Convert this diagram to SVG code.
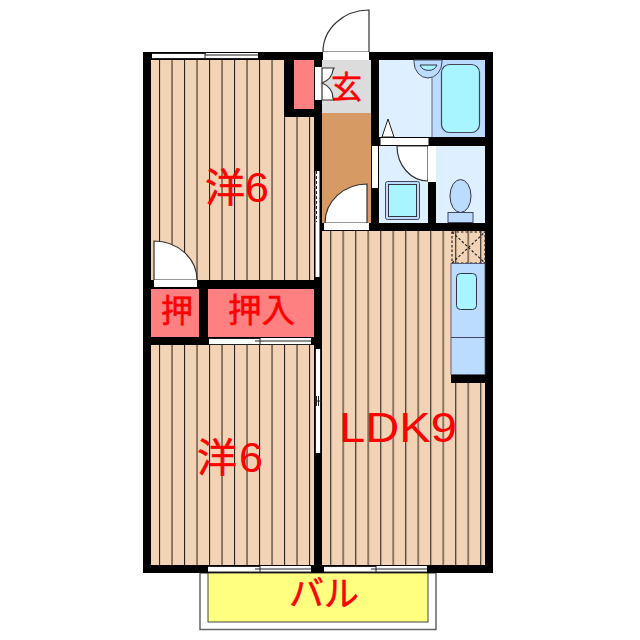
<svg xmlns="http://www.w3.org/2000/svg" width="640" height="640" viewBox="0 0 640 640">
<style>
.t{fill:#f00;stroke:#f00;stroke-width:.5;font-family:"Noto Sans CJK JP","Liberation Sans",sans-serif}
.n{font-family:"Liberation Sans",sans-serif;font-size:43px;stroke-width:0}
.l{stroke:#222;stroke-width:1;fill:none}
.w{fill:#fff;stroke:#222;stroke-width:1}
.f{fill:#fff;stroke:#333;stroke-width:1.2}
</style>
<defs>
<pattern id="p1" patternUnits="userSpaceOnUse" x="159" y="0" width="25" height="10"><rect width="25" height="10" fill="#f2d3b6"/><rect x="0" width="1.1" height="10" fill="#2a2520"/><rect x="12.300" width="1.500" height="10" fill="#6e5a48"/></pattern>
<pattern id="p2" patternUnits="userSpaceOnUse" x="330.200" y="0" width="25" height="10"><rect width="25" height="10" fill="#f2d3b6"/><rect x="0" width="1.1" height="10" fill="#2a2520"/><rect x="12.300" width="1.500" height="10" fill="#6e5a48"/></pattern>
</defs>
<g id="floors">
<rect x="151" y="60" width="133" height="57" fill="url(#p1)"/>
<rect x="151" y="117" width="163" height="165" fill="url(#p1)"/>
<rect x="151" y="345" width="163" height="220" fill="url(#p1)"/>
<rect x="322" y="231" width="163" height="334" fill="url(#p2)"/>
</g>
<g id="balcony">
<rect x="200" y="573" width="236" height="56.500" fill="#fff" stroke="#666" stroke-width="1.500"/>
<rect x="208" y="573" width="220" height="49" fill="#ffff80" stroke="#444" stroke-width="1"/>
</g>
<g id="rooms">
<rect x="294" y="60" width="20" height="49" fill="#ff8080"/>
<rect x="322" y="60" width="49" height="53" fill="#dcdcdc"/>
<rect x="322" y="113" width="49" height="110" fill="#d69a64"/>
<rect x="379" y="60" width="53" height="77" fill="#def0ff"/>
<rect x="432" y="60" width="53" height="77" fill="#bcdcff"/>
<rect x="379" y="146" width="49" height="77" fill="#def0ff"/>
<rect x="436" y="146" width="49" height="77" fill="#def0ff"/>
<rect x="151" y="289" width="48" height="48" fill="#ff8080"/>
<rect x="208" y="289" width="106" height="48" fill="#ff8080"/>
</g>
<g id="walls" fill="#000">
<rect x="143" y="52" width="350" height="8"/>
<rect x="143" y="52" width="8" height="521"/>
<rect x="485" y="52" width="8" height="521"/>
<rect x="143" y="565" width="350" height="8"/>
<rect x="284" y="60" width="10" height="57"/>
<rect x="284" y="109" width="38" height="8"/>
<rect x="314" y="60" width="8" height="171"/>
<rect x="371" y="60" width="8" height="171"/>
<rect x="314" y="223" width="179" height="8"/>
<rect x="379" y="137" width="106" height="9"/>
<rect x="428" y="137" width="8" height="94"/>
<rect x="143" y="280" width="179" height="9"/>
<rect x="143" y="337" width="179" height="8"/>
<rect x="199" y="289" width="9" height="56"/>
<rect x="314" y="231" width="8" height="118"/>
<rect x="314" y="345" width="8" height="228"/>
<rect x="451" y="375" width="34" height="8"/>
</g>
<g id="fixtures">
<path d="M323 52A46 42 0 0 1 369 10V52Z" class="f"/>
<rect x="323" y="52" width="46" height="8" fill="#fff"/>
<path d="M325 223A42 39 0 0 1 367 184V223Z" class="f"/>
<rect x="324" y="223" width="45" height="7" fill="#fff"/>
<path d="M154 241A43 39 0 0 1 197 280H154Z" class="f"/>
<rect x="154" y="280" width="43" height="7" fill="#fff"/>
<path d="M397 146A31 35 0 0 0 428 181V146Z" class="f"/>
<rect x="380.500" y="138" width="48" height="7" fill="#fff"/>
<rect x="428" y="146" width="8" height="36" fill="#fff"/>
<rect x="372" y="146" width="6" height="42" fill="#fff"/>
<path d="M382 137L388 119L394 137Z" class="w"/>
<path d="M432 78V137" stroke="#667" stroke-width="1"/>
<path d="M414 60H442V62A14 16 0 0 1 414 62Z" fill="#bcdcff" stroke="#445" stroke-width="1"/>
<path d="M420 65H437A9 8 0 0 1 420 65Z" fill="#a8f4ff" stroke="#334" stroke-width="1"/>
<rect x="441.500" y="64.500" width="38" height="68" rx="8" fill="#a8f4ff" stroke="#445" stroke-width="1.200"/>
<rect x="385.500" y="181.500" width="34" height="38" rx="2" fill="#bcdcff" stroke="#446" stroke-width="1"/>
<rect x="388.500" y="184.500" width="28" height="32" fill="#a8f4ff" stroke="#334" stroke-width="1"/>
<ellipse cx="460.500" cy="196" rx="10.500" ry="16.500" fill="#bcdcff" stroke="#334" stroke-width="1"/>
<rect x="448" y="212.500" width="25" height="10" fill="#bcdcff" stroke="#446" stroke-width="1"/>
<rect x="315" y="67" width="7" height="33" fill="#fff"/>
<path d="M322 68H334L333 70A18 16 0 0 1 322 83A18 16 0 0 1 333 98L334 100H322Z" class="f"/>
<g fill="none" stroke="#222" stroke-dasharray="2.500 2" stroke-width="1.200">
<rect x="452" y="232" width="33" height="31"/>
<path d="M452 263L485 232M452 232L485 263"/>
</g>
<rect x="451" y="263.500" width="34" height="111" fill="#bcdcff" stroke="#446" stroke-width="0.800"/>
<path d="M451 337.500H485" stroke="#446" stroke-width="1"/>
<rect x="456.500" y="273.500" width="20" height="36" rx="4" fill="#a8f4ff" stroke="#334" stroke-width="1"/>
</g>
<g id="windows">
<rect x="152" y="53" width="106" height="6" fill="#fff"/>
<path class="l" d="M152 53.500H206M205 55H258M205 53V59M152 58.500H258"/>
<rect x="209" y="338" width="102" height="7" fill="#fff"/>
<path class="l" d="M209 338.500H260M255 341H311M260 338V345M209 344.500H311"/>
<rect x="208" y="566" width="103" height="6" fill="#fff"/>
<path class="l" d="M208 566.500H260M255 569H311M260 566V572M208 572H311"/>
<rect x="324" y="566" width="103" height="6" fill="#fff"/>
<path class="l" d="M324 566.500H376M371 569H427M376 566V572M324 572H427"/>
<rect x="315.500" y="171" width="4" height="106" fill="#fff"/>
<path d="M316.500 171V222" stroke="#222" stroke-width="1" stroke-dasharray="3 2"/>
<rect x="315" y="349" width="6" height="104" fill="#fff"/>
<path class="l" d="M315.500 349V453M320.500 349V453M314 401H322M316.500 396V406M318.500 396V406"/>
</g>
<g id="labels">
<text class="t" x="205" y="202" font-size="40">洋<tspan class="n" x="245" y="202">6</tspan></text>
<text class="t" x="197" y="472" font-size="40">洋<tspan class="n" x="239" y="472">6</tspan></text>
<text class="t" x="339" y="442" font-size="43" textLength="118" lengthAdjust="spacingAndGlyphs" style="font-family:'Liberation Sans',sans-serif;stroke-width:0">LDK9</text>
<text class="t" x="331" y="98" font-size="31">玄</text>
<text class="t" x="161" y="322" font-size="32">押</text>
<text class="t" x="228" y="322" font-size="33.500">押入</text>
<text class="t" x="289" y="606" font-size="35">バル</text>
</g>
</svg>
